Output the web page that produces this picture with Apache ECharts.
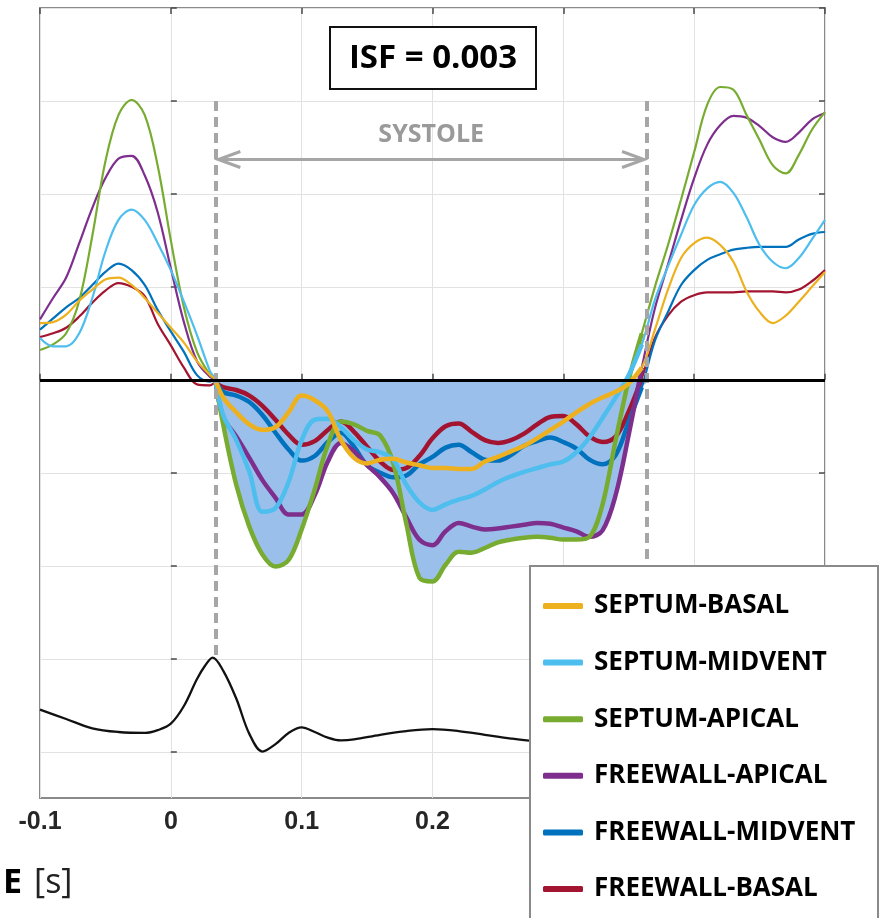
<!DOCTYPE html>
<html><head><meta charset="utf-8">
<script src="https://cdn.jsdelivr.net/npm/echarts@6/dist/echarts.min.js"></script>
<style>html,body{margin:0;padding:0;background:#fff}#c{width:883px;height:918px}</style>
</head><body><div id="c"></div>
<script>
// ---- data ----
const time = [-0.1,-0.09,-0.08,-0.07,-0.06,-0.05,-0.04,-0.03,-0.02,-0.01,0,0.01,0.02,0.03,0.034,
  0.04,0.05,0.06,0.07,0.08,0.09,0.1,0.11,0.12,0.13,0.14,0.15,0.16,0.17,0.18,0.19,0.2,0.21,0.22,0.23,0.24,
  0.25,0.26,0.27,0.28,0.29,0.3,0.31,0.32,0.33,0.34,0.35,0.36,0.37,0.38,0.39,0.4,0.41,0.42,0.43,0.44,0.45,
  0.46,0.47,0.48,0.49,0.5];

const septumBasal = [0.61,0.62,0.7,0.85,0.97,1.08,1.1,1.02,0.88,0.72,0.56,0.4,0.2,0.05,0,
  -0.19,-0.35,-0.48,-0.54,-0.51,-0.35,-0.17,-0.22,-0.34,-0.65,-0.84,-0.90,-0.86,-0.85,-0.89,-0.92,-0.95,-0.95,-0.96,-0.96,-0.88,
  -0.83,-0.77,-0.71,-0.63,-0.54,-0.45,-0.35,-0.26,-0.19,-0.13,-0.04,0.13,0.54,0.97,1.31,1.47,1.53,1.45,1.27,0.95,0.73,
  0.61,0.69,0.84,1.0,1.16];
const septumMidvent = [0.45,0.36,0.36,0.5,0.88,1.38,1.72,1.83,1.72,1.47,1.18,0.84,0.48,0.09,0,
  -0.38,-0.65,-0.99,-1.42,-1.38,-1.10,-0.65,-0.43,-0.42,-0.51,-0.65,-0.75,-0.78,-0.86,-1.13,-1.32,-1.40,-1.34,-1.29,-1.25,-1.18,
  -1.10,-1.04,-0.99,-0.95,-0.91,-0.88,-0.78,-0.62,-0.41,-0.19,0.05,0.38,0.86,1.22,1.56,1.88,2.06,2.13,2.01,1.75,1.45,
  1.27,1.20,1.31,1.51,1.72];
const septumApical = [0.32,0.38,0.5,0.85,1.55,2.35,2.85,3.01,2.85,2.3,1.5,0.78,0.3,0.05,0,
  -0.48,-1.13,-1.58,-1.88,-2.01,-1.94,-1.61,-1.18,-0.70,-0.45,-0.48,-0.55,-0.60,-0.90,-1.55,-2.13,-2.17,-1.99,-1.85,-1.86,-1.81,
  -1.75,-1.72,-1.70,-1.69,-1.70,-1.72,-1.72,-1.69,-1.34,-0.65,0.0,0.5,1.0,1.45,1.94,2.45,2.96,3.15,3.12,2.85,2.58,
  2.31,2.22,2.42,2.69,2.88];
const freewallApical = [0.65,0.88,1.1,1.47,1.85,2.17,2.38,2.41,2.2,1.8,1.2,0.62,0.2,0.03,0,
  -0.40,-0.61,-0.84,-1.08,-1.27,-1.45,-1.45,-1.24,-0.88,-0.68,-0.77,-0.92,-1.05,-1.22,-1.48,-1.72,-1.78,-1.63,-1.54,-1.58,-1.61,
  -1.60,-1.58,-1.56,-1.54,-1.55,-1.59,-1.63,-1.69,-1.62,-1.24,-0.59,0.13,0.77,1.24,1.72,2.17,2.53,2.74,2.84,2.82,2.73,
  2.61,2.56,2.66,2.80,2.87];
const freewallMidvent = [0.54,0.66,0.78,0.88,1.02,1.16,1.25,1.18,1.02,0.75,0.52,0.3,0.05,-0.02,0,
  -0.13,-0.17,-0.24,-0.38,-0.57,-0.75,-0.87,-0.82,-0.67,-0.57,-0.72,-0.92,-1.0,-1.05,-1.03,-0.91,-0.83,-0.73,-0.70,-0.78,-0.86,
  -0.87,-0.81,-0.71,-0.66,-0.62,-0.67,-0.74,-0.86,-0.91,-0.81,-0.45,-0.08,0.42,0.73,1.02,1.18,1.29,1.35,1.40,1.42,1.43,
  1.43,1.43,1.51,1.57,1.59];
const freewallBasal = [0.46,0.5,0.56,0.68,0.83,0.96,1.04,1.0,0.9,0.6,0.37,0.13,-0.05,-0.06,-0.03,
  -0.08,-0.11,-0.17,-0.28,-0.43,-0.59,-0.70,-0.66,-0.54,-0.45,-0.56,-0.72,-0.88,-0.97,-0.95,-0.82,-0.63,-0.50,-0.47,-0.56,-0.65,
  -0.68,-0.65,-0.58,-0.48,-0.40,-0.39,-0.48,-0.61,-0.67,-0.61,-0.34,0.02,0.45,0.69,0.84,0.91,0.94,0.94,0.94,0.95,0.95,
  0.95,0.94,0.97,1.06,1.18];

const ecgTime = [-0.1,-0.08,-0.06,-0.04,-0.02,-0.01,0,0.01,0.02,0.026,0.032,0.04,0.05,0.06,0.07,0.08,0.09,0.1,
  0.11,0.12,0.13,0.14,0.16,0.18,0.2,0.22,0.24,0.26,0.28,0.3];
const ecgValue = [-3.55,-3.65,-3.75,-3.79,-3.80,-3.77,-3.70,-3.51,-3.22,-3.08,-2.99,-3.13,-3.43,-3.81,-4.0,-3.92,-3.80,-3.74,
  -3.79,-3.85,-3.88,-3.87,-3.82,-3.78,-3.76,-3.78,-3.82,-3.86,-3.89,-3.9];

const seriesNames = ['SEPTUM-BASAL','SEPTUM-MIDVENT','SEPTUM-APICAL','FREEWALL-APICAL','FREEWALL-MIDVENT','FREEWALL-BASAL'];
const seriesColors = ['#EDB120','#4DBEEE','#77AC30','#7E2F8E','#0072BD','#A2142F'];
const seriesValues = [septumBasal, septumMidvent, septumApical, freewallApical, freewallMidvent, freewallBasal];

const xTicks = [-0.1, 0, 0.1, 0.2, 0.3, 0.4, 0.5];
const SYSTOLE_START = 0.034, SYSTOLE_END = 0.364;
const ISF_TEXT = 'ISF = 0.003';
const ARROW_Y = 2.37, DASH_TOP = 3, DASH_BOTTOM = -3;

// ---- chart ----
const chart = echarts.init(document.getElementById('c'), null, {renderer:'canvas'});
const GRID = '#e2e2e2', AXC = '#8a8a8a', TICK = '#4a4a4a';
const SMOOTH = 0.35;

const pts = vals => time.map((t,i)=>[t, vals[i]]);
const sysIdx = time.map((t,i)=>i).filter(i => time[i] >= SYSTOLE_START-1e-9 && time[i] <= 0.36+1e-9);
const fillIdx = time.map((t,i)=>i).filter(i => time[i] >= SYSTOLE_START-1e-9 && time[i] <= 0.37+1e-9);
const envelope = fillIdx.map(i => [time[i], Math.min(0, ...seriesValues.map(v=>v[i]))]);

const drawOrder = [5,4,3,2,1,0];
const series = [];
series.push({type:'line', name:'fill', data:envelope, smooth:SMOOTH, symbol:'none', silent:true,
  lineStyle:{width:0, opacity:0}, areaStyle:{color:'#9bbfeb', opacity:1, origin:0}, z:1});
drawOrder.forEach(k=>{
  series.push({type:'line', name:seriesNames[k], data:pts(seriesValues[k]), smooth:SMOOTH, symbol:'none',
    color:seriesColors[k], lineStyle:{width:2.2, color:seriesColors[k]}, z:2});
});
drawOrder.forEach(k=>{
  series.push({type:'line', name:seriesNames[k], data:sysIdx.map(i=>[time[i], seriesValues[k][i]]), smooth:SMOOTH, symbol:'none',
    color:seriesColors[k], lineStyle:{width:4.5, color:seriesColors[k]}, z:2});
});
series.push({type:'line', name:'ECG', data:ecgTime.map((t,i)=>[t, ecgValue[i]]), smooth:SMOOTH, symbol:'none',
  lineStyle:{width:2.3, color:'#111'}, color:'#111', z:2});
series.push({type:'line', name:'dash', data:[], z:2, silent:true,
  markLine:{silent:true, symbol:['none','none'], label:{show:false},
    lineStyle:{color:'#a6a6a6', width:4, type:[10,6]},
    data:[[{coord:[SYSTOLE_START, DASH_TOP]},{coord:[SYSTOLE_START, DASH_BOTTOM]}],
          [{coord:[SYSTOLE_END, DASH_TOP]},{coord:[SYSTOLE_END, DASH_BOTTOM]}]]}});
series.push({type:'line', name:'zero', data:[], z:2, silent:true,
  markLine:{silent:true, symbol:['none','none'], label:{show:false},
    lineStyle:{color:'#000', width:3, type:'solid'}, data:[{yAxis:0}]}});

chart.setOption({
  animation:false,
  backgroundColor:'#fff',
  grid:[
    {left:40, top:8, width:785, height:790, show:true, borderColor:AXC, borderWidth:2, backgroundColor:'transparent'},
    {left:40, top:8, width:785, height:744, show:false}
  ],
  xAxis:[
    {gridIndex:0, type:'value', min:-0.1, max:0.5, interval:0.1, position:'bottom',
      axisLine:{show:false}, axisTick:{show:true, inside:true, length:6, lineStyle:{color:TICK, width:1.5}},
      axisLabel:{show:true, margin:12, fontSize:25, fontWeight:'bold', fontFamily:'Liberation Sans', color:'#262626',
        formatter:v=>{ const r=Math.round(v*10)/10; return xTicks.includes(r) ? String(r) : ''; }},
      splitLine:{show:true, lineStyle:{color:GRID, width:1}}},
    {gridIndex:0, type:'value', min:-0.1, max:0.5, interval:0.1, position:'top',
      axisLine:{show:false}, axisTick:{show:true, inside:true, length:6, lineStyle:{color:TICK, width:1.5}},
      axisLabel:{show:false}, splitLine:{show:false}},
    {gridIndex:1, type:'value', min:-0.1, max:0.5, show:false}
  ],
  yAxis:[
    {gridIndex:0, type:'value', min:-4.5, max:4, show:false},
    {gridIndex:1, type:'value', min:-4, max:4, interval:1, position:'left',
      axisLine:{show:false}, axisTick:{show:true, inside:true, length:6, lineStyle:{color:TICK, width:1.5}},
      axisLabel:{show:false}, splitLine:{show:true, lineStyle:{color:GRID, width:1}}},
    {gridIndex:1, type:'value', min:-4, max:4, interval:1, position:'right',
      axisLine:{show:false}, axisTick:{show:true, inside:true, length:6, lineStyle:{color:TICK, width:1.5}},
      axisLabel:{show:false}, splitLine:{show:false}}
  ],
  legend:{data:seriesNames, orient:'vertical', left:530, top:566, padding:[25,10,10,13],
    itemWidth:40, itemHeight:6, itemGap:26.6, icon:'roundRect', selectedMode:false, z:10,
    textStyle:{fontFamily:'Open Sans', fontWeight:'bold', fontSize:26, color:'#000', lineHeight:30, padding:[0,0,0,6]}},
  series
});

const px = (t,v)=>chart.convertToPixel({xAxisIndex:0, yAxisIndex:0}, [t,v]);
const a = px(SYSTOLE_START, ARROW_Y), b = px(SYSTOLE_END, ARROW_Y);
const ay = a[1], ax = a[0]+3, bx = b[0]-3;
const ARC = '#a6a6a6';
chart.setOption({graphic:[
  {type:'rect', z:9, shape:{x:530, y:566, width:348, height:420}, style:{fill:'#fff', stroke:AXC, lineWidth:2}},
  {type:'rect', z:9, shape:{x:330, y:27, width:206, height:62}, style:{fill:'#fff', stroke:'#111', lineWidth:2}},
  {type:'text', z:9, x:433, y:59, style:{text:ISF_TEXT, font:'bold 33px "Open Sans"', fill:'#000', align:'center', verticalAlign:'middle'}},
  {type:'text', z:5, x:(ax+bx)/2, y:ay-25, style:{text:'SYSTOLE', font:'bold 25px "Open Sans"', fill:'#9a9a9a', align:'center', verticalAlign:'middle'}},
  {type:'polyline', z:5, shape:{points:[[ax,ay],[bx,ay]]}, style:{stroke:ARC, lineWidth:3, fill:null}},
  {type:'polyline', z:5, shape:{points:[[ax+22,ay-8],[ax,ay],[ax+22,ay+8]]}, style:{stroke:ARC, lineWidth:3, fill:null, lineJoin:'miter'}},
  {type:'polyline', z:5, shape:{points:[[bx-22,ay-8],[bx,ay],[bx-22,ay+8]]}, style:{stroke:ARC, lineWidth:3, fill:null, lineJoin:'miter'}},
  {type:'text', z:5, x:3, y:883, style:{text:'{b|E}{n|[s]}', verticalAlign:'middle',
    rich:{b:{fontFamily:'Open Sans', fontWeight:'bold', fontSize:34, fill:'#000', color:'#000'},
          n:{fontFamily:'Open Sans', fontWeight:'normal', fontSize:34, fill:'#222', color:'#222', padding:[0,0,0,12]}}}}
]});
</script>
</body></html>
